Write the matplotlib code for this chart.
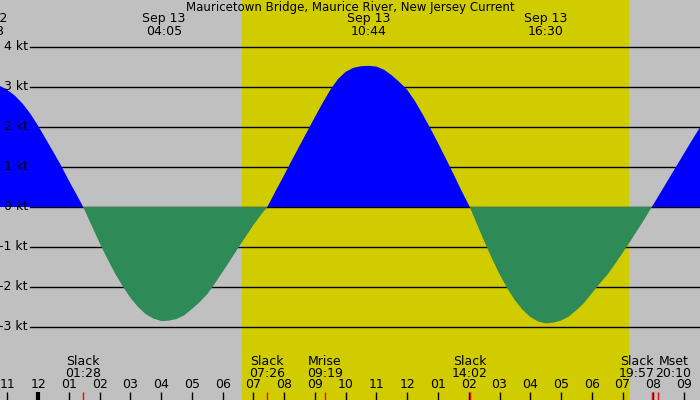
import matplotlib.pyplot as plt
import numpy as np

# Horas desde la medianoche del 13 de septiembre y velocidad de la corriente (kt)
horas = [-1.5, -1.25, -1.0, -0.75, -0.5, -0.25, 0.0, 0.25, 0.5, 0.75, 1.0, 1.25, 1.467,
         1.5, 1.75, 2.0, 2.25, 2.5, 2.75, 3.0, 3.25, 3.5, 3.75, 4.0, 4.083,
         4.25, 4.5, 4.75, 5.0, 5.25, 5.5, 5.75, 6.0, 6.25, 6.5, 6.75, 7.0, 7.25, 7.45,
         7.5, 7.75, 8.0, 8.25, 8.5, 8.75, 9.0, 9.25, 9.5, 9.75, 10.0, 10.25, 10.5, 10.75,
         11.0, 11.25, 11.5, 11.75, 12.0, 12.25, 12.5, 12.75, 13.0, 13.25, 13.5, 13.75, 14.0, 14.033,
         14.25, 14.5, 14.75, 15.0, 15.25, 15.5, 15.75, 16.0, 16.25, 16.5,
         16.75, 17.0, 17.25, 17.5, 17.75, 18.0, 18.25, 18.5, 18.75, 19.0, 19.25, 19.5, 19.75, 19.95,
         20.0, 20.25, 20.5, 20.75, 21.0, 21.25, 21.5, 21.75]
nudos = [3.09, 3.03, 2.93, 2.78, 2.58, 2.33, 2.03, 1.70, 1.37, 1.03, 0.66, 0.31, 0.0,
         -0.06, -0.48, -0.90, -1.29, -1.66, -1.98, -2.27, -2.50, -2.68, -2.79, -2.85, -2.85,
         -2.84, -2.80, -2.71, -2.55, -2.38, -2.18, -1.91, -1.62, -1.33, -1.03, -0.74, -0.45, -0.19, 0.0,
         0.07, 0.44, 0.80, 1.17, 1.53, 1.89, 2.25, 2.60, 2.93, 3.20, 3.38, 3.48, 3.52, 3.53,
         3.51, 3.43, 3.29, 3.12, 2.93, 2.65, 2.32, 1.97, 1.60, 1.22, 0.83, 0.43, 0.05, 0.0,
         -0.40, -0.85, -1.28, -1.68, -2.03, -2.33, -2.57, -2.75, -2.86, -2.91,
         -2.89, -2.84, -2.74, -2.58, -2.40, -2.16, -1.92, -1.70, -1.43, -1.15, -0.86, -0.56, -0.26, 0.0,
         0.06, 0.38, 0.70, 1.02, 1.34, 1.66, 1.97, 2.27]

niveles = [4, 3, 2, 1, 0, -1, -2, -3]

# Extremos (arriba)
ext_fecha = ['Sep 12', 'Sep 13', 'Sep 13', 'Sep 13']
ext_hora = ['22:18', '04:05', '10:44', '16:30']
ext_t = [-1.7, 4.083, 10.733, 16.5]

# Eventos (abajo)
ev_nombre = ['Slack', 'Slack', 'Mrise', 'Slack', 'Slack', 'Mset']
ev_hora = ['01:28', '07:26', '09:19', '14:02', '19:57', '20:10']
ev_t = [1.467, 7.433, 9.317, 14.033, 19.95, 20.167]
ev_desplaz = [0, 0, 0, 0, -15, 15]

amanecer = 6 + 38 / 60
atardecer = 19 + 10 / 60

horas_eje = list(range(-1, 22))

gris = '#C0C0C0'
amarillo = '#D0CC00'
azul = '#0000FF'
verde = '#2E8B57'

# Escala: 30.76 px por hora, 40 px por nudo
x0 = -38.1 / 30.76
y_top = 5.175

def y_px(p):
    return y_top - p / 40

fig = plt.figure(figsize=(7, 4), dpi=100)
ax = fig.add_axes([0, 0, 1, 1])
ax.set_xlim(x0, (700 - 38.1) / 30.76)
ax.set_ylim(y_top - 10, y_top)
ax.axis('off')
ax.add_patch(plt.Rectangle((0, 0), 1, 1, transform=ax.transAxes, color=gris, zorder=0))

ax.axvspan(amanecer, atardecer, color=amarillo, zorder=1)

for n in niveles:
    ax.axhline(n, xmin=30 / 700, xmax=1, color='black', lw=1.0, zorder=2)
    ax.text(x0 + 28 / 30.76, n, f'{n} kt', ha='right', va='center', fontsize=9, zorder=5)

t = np.array(horas)
v = np.array(nudos)
ax.fill_between(t, v, 0, where=v >= 0, color=azul, lw=0, zorder=3)
ax.fill_between(t, v, 0, where=v <= 0, color=verde, lw=0, zorder=3)

fig.text(0.5, 1 - 8 / 400, 'Mauricetown Bridge, Maurice River, New Jersey Current',
         ha='center', va='center', fontsize=8.5)

for f, h, x in zip(ext_fecha, ext_hora, ext_t):
    ax.text(x, y_px(25), f'{f}\n{h}', ha='center', va='center', fontsize=9,
            linespacing=0.95, zorder=5)

for nom, h, x, d in zip(ev_nombre, ev_hora, ev_t, ev_desplaz):
    ax.annotate(f'{nom}\n{h}', (x, y_px(367.5)), xytext=(d, 0), textcoords='offset pixels',
                ha='center', va='center', fontsize=9, linespacing=0.88, zorder=5)

y_tick0 = y_px(392)
y_tick1 = y_px(400)
for hr in horas_eje:
    etiqueta = f'{(hr - 1) % 12 + 1:02d}'
    ax.text(hr, y_px(385), etiqueta, ha='center', va='center', fontsize=9, zorder=5)
    ax.plot([hr, hr], [y_tick0, y_tick1], color='black', lw=3 if hr == 0 else 1,
            solid_capstyle='butt', zorder=4)

for x in ev_t:
    ax.plot([x, x], [y_tick0, y_tick1], color='red', lw=1, solid_capstyle='butt', zorder=4)

fig.savefig('out.png', dpi=100, facecolor=gris)
